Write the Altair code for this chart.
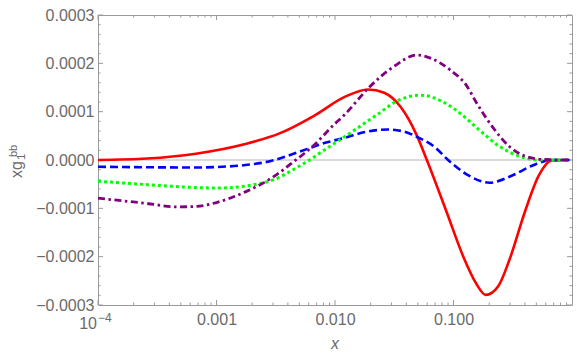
import altair as alt
import pandas as pd

W, H = 474, 290
TOP = 7          # top padding (plot top is at page y = 8 + TOP)

# ---- data ----
red_x = [1e-4, 2.6e-4, 6.7e-4, 1.75e-3, 3.4e-3, 6.6e-3, 1.22e-2, 1.9e-2, 2.6e-2, 3.6e-2,
         4.9e-2, 5.96e-2, 8.7e-2, 0.121, 0.155, 0.187, 0.24, 0.296, 0.402, 0.525, 0.673, 0.95]
red_y = [0.0, 3e-6, 1.3e-5, 3.3e-5, 5.5e-5, 9.1e-5, 1.31e-4, 1.46e-4, 1.39e-4, 1.09e-4,
         5.1e-5, 0.0, -1.06e-4, -2.0e-4, -2.55e-4, -2.79e-4, -2.6e-4, -2.07e-4, -1.06e-4, -3.2e-5, -1e-6, 0.0]

blue_x = [1e-4, 2.6e-4, 6.7e-4, 1.0e-3, 1.75e-3, 2.4e-3, 3.1e-3, 3.9e-3, 5.7e-3, 8.4e-3,
          1.22e-2, 1.79e-2, 2.8e-2, 3.8e-2, 4.9e-2, 7.0e-2, 9.0e-2, 0.128, 0.202, 0.313,
          0.459, 0.673, 0.95]
blue_y = [-1.4e-5, -1.5e-5, -1.55e-5, -1.45e-5, -1.05e-5, -6e-6, 0.0, 8e-6, 2.2e-5, 3.6e-5,
          4.6e-5, 5.8e-5, 6.3e-5, 5.9e-5, 4.8e-5, 2.6e-5, 0.0, -2.9e-5, -4.7e-5, -3.2e-5,
          -1.2e-5, 0.0, 0.0]

green_x = [1e-4, 2.6e-4, 6.7e-4, 1.0e-3, 1.75e-3, 2.4e-3, 3.1e-3, 4.5e-3, 6.0e-3, 8.4e-3,
           1.22e-2, 2.3e-2, 3.4e-2, 5.3e-2, 8.2e-2, 0.12, 0.167, 0.245, 0.358, 0.525, 0.95]
green_y = [-4.4e-5, -5.1e-5, -5.7e-5, -5.8e-5, -5.4e-5, -4.8e-5, -4.0e-5, -1.9e-5, -1e-6, 2.3e-5,
           4.9e-5, 9.5e-5, 1.23e-4, 1.34e-4, 1.2e-4, 9.2e-5, 6.1e-5, 2.8e-5, 8e-6, 0.0, 0.0]

purple_x = [1e-4, 2.6e-4, 4.6e-4, 6.7e-4, 1.0e-3, 1.75e-3, 3.1e-3, 4.5e-3, 6.6e-3, 9.7e-3,
            1.22e-2, 1.9e-2, 3.2e-2, 4.9e-2, 6.5e-2, 9.4e-2, 0.128, 0.155, 0.214, 0.296,
            0.402, 0.589, 0.95]
purple_y = [-7.9e-5, -9.0e-5, -9.7e-5, -9.6e-5, -8.8e-5, -6.6e-5, -3.3e-5, -3e-6, 3.0e-5, 7.2e-5,
            9.5e-5, 1.48e-4, 1.95e-4, 2.17e-4, 2.1e-4, 1.86e-4, 1.55e-4, 1.2e-4, 6.8e-5, 2.8e-5,
            8e-6, 1e-6, 0.0]

x_major = [1e-4, 1e-3, 1e-2, 1e-1]
x_labels = [0.001, 0.01, 0.1]
x_minor = [m * 10.0 ** e for e in range(-4, 0) for m in range(2, 10)]
y_major = [-3e-4, -2e-4, -1e-4, 0.0, 1e-4, 2e-4, 3e-4]
y_minor = [k * 2e-5 for k in range(-15, 16) if k % 5 != 0]

FRAME = "#9a9a9a"
LABEL = "#6a6a6a"
FONT = "Liberation Sans"

xs = alt.Scale(type="log", domain=[1e-4, 1])
ys = alt.Scale(domain=[-3e-4, 3e-4])

XA = alt.Axis(values=x_labels, ticks=False, tickSize=0, domain=False, grid=False, title=None,
              labelExpr="format(datum.value, '.3f')",
              labelFont=FONT, labelFontSize=16, labelColor=LABEL, labelPadding=6)
YA = alt.Axis(values=y_major, ticks=False, tickSize=0, domain=False, grid=False, title=None,
              labelExpr="datum.value < 0 ? '\u2212' + format(-datum.value, '.4f') : format(datum.value, '.4f')",
              labelFont=FONT, labelFontSize=16, labelColor=LABEL, labelPadding=4)


def X(f):
    return alt.X(f, scale=xs, axis=XA)


def Y(f):
    return alt.Y(f, scale=ys, axis=YA)


def line(xv, yv, color, width, dash=None):
    df = pd.DataFrame({"x": xv, "y": yv})
    kw = dict(color=color, strokeWidth=width, interpolate="monotone", strokeCap="butt")
    if dash is not None:
        kw["strokeDash"] = dash
    return alt.Chart(df).mark_line(**kw).encode(x=X("x:Q"), y=Y("y:Q"))


zero = alt.Chart(pd.DataFrame({"v": [0.0]})).mark_rule(color="#b5b5b5", strokeWidth=1).encode(
    y=Y("v:Q"), x=alt.value(0), x2=alt.value(W))

xmaj_df = pd.DataFrame({"v": x_major})
xmin_df = pd.DataFrame({"v": x_minor})
ymaj_df = pd.DataFrame({"v": y_major})
ymin_df = pd.DataFrame({"v": y_minor})


def rule(df):
    return alt.Chart(df).mark_rule(color=FRAME, strokeWidth=1)


ticks = [
    rule(xmaj_df).encode(x=X("v:Q"), y=alt.value(H), y2=alt.value(H - 5)),
    rule(xmaj_df).encode(x=X("v:Q"), y=alt.value(0), y2=alt.value(5)),
    rule(xmin_df).encode(x=X("v:Q"), y=alt.value(H), y2=alt.value(H - 2.5)),
    rule(xmin_df).encode(x=X("v:Q"), y=alt.value(0), y2=alt.value(2.5)),
    rule(ymaj_df).encode(y=Y("v:Q"), x=alt.value(0), x2=alt.value(5)),
    rule(ymaj_df).encode(y=Y("v:Q"), x=alt.value(W), x2=alt.value(W - 5)),
    rule(ymin_df).encode(y=Y("v:Q"), x=alt.value(0), x2=alt.value(2.5)),
    rule(ymin_df).encode(y=Y("v:Q"), x=alt.value(W), x2=alt.value(W - 2.5)),
]

# 10^-4 label
first_df = pd.DataFrame({"v": [1e-4]})
ten = alt.Chart(first_df).mark_text(text="10", font=FONT, fontSize=16, color=LABEL,
                                    align="right", baseline="alphabetic", dx=-1).encode(
    x=X("v:Q"), y=alt.value(H + 24))
exp = alt.Chart(first_df).mark_text(text="\u22124", font=FONT, fontSize=12, color=LABEL,
                                    align="left", baseline="alphabetic", dx=0).encode(
    x=X("v:Q"), y=alt.value(H + 17))

# titles (positions given in page pixels, converted to plot coordinates)
one = pd.DataFrame({"t": [0]})
OX, OY = 98, 8 + TOP
xtitle = alt.Chart(one).mark_text(text="x", font=FONT, fontSize=16, fontStyle="italic",
                                  color=LABEL, align="center", baseline="alphabetic").encode(
    x=alt.value(W / 2), y=alt.value(H + 44))
yt_main = alt.Chart(one).mark_text(text="xg", font=FONT, fontSize=16, color=LABEL, angle=270,
                                   align="left", baseline="alphabetic").encode(
    x=alt.value(22 - OX), y=alt.value(178 - OY))
yt_sub = alt.Chart(one).mark_text(text="1", font=FONT, fontSize=11.5, color=LABEL, angle=270,
                                  align="left", baseline="alphabetic").encode(
    x=alt.value(25 - OX), y=alt.value(160 - OY))
yt_sup = alt.Chart(one).mark_text(text="bb", font=FONT, fontSize=11, color=LABEL, angle=270,
                                  align="left", baseline="alphabetic").encode(
    x=alt.value(17 - OX), y=alt.value(157 - OY))

chart = alt.layer(
    zero, *ticks,
    line(red_x, red_y, "#ff0000", 2.6),
    line(blue_x, blue_y, "#0000ff", 2.6, [8, 4]),
    line(green_x, green_y, "#00ff00", 3.0, [3, 3]),
    line(purple_x, purple_y, "#800080", 2.8, [7, 3.5, 2.5, 3.5]),
    ten, exp, xtitle, yt_main, yt_sub, yt_sup,
).properties(
    width=W, height=H,
    autosize=alt.AutoSizeParams(type="none"),
    padding={"left": 90, "top": TOP, "right": 1, "bottom": 46},
).configure_view(stroke=FRAME, strokeWidth=1)

chart.save("out.html", embed_options={"renderer": "svg", "actions": False})
